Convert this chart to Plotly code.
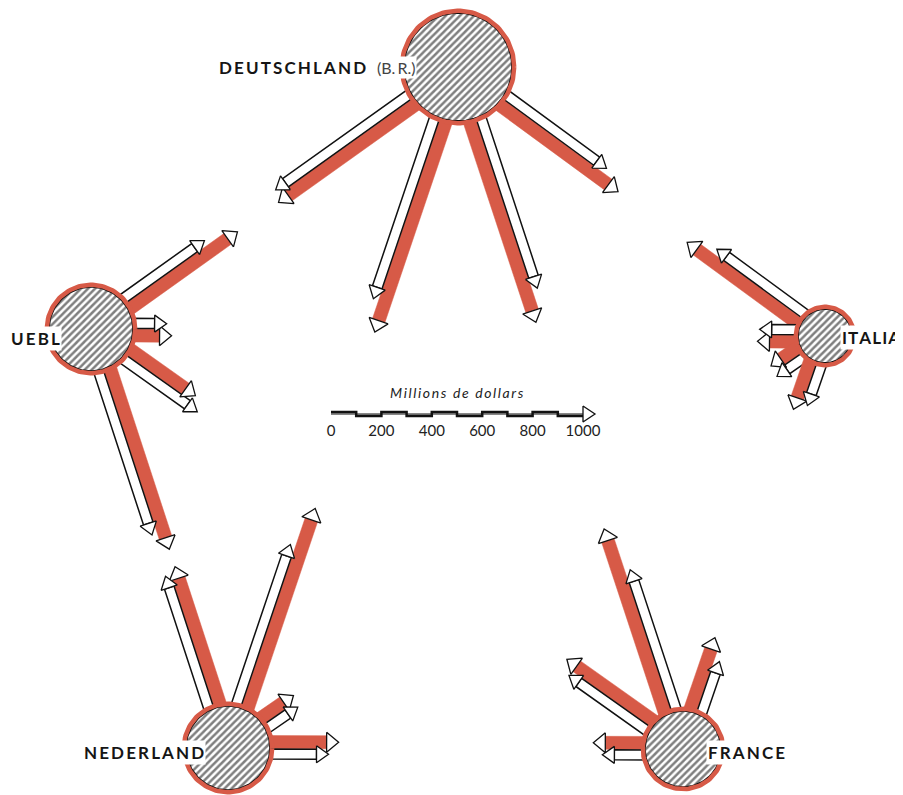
import numpy as np
import plotly.graph_objects as go

# Intra-community trade flows, millions of dollars
countries = ["DEUTSCHLAND", "UEBL", "ITALIA", "NEDERLAND", "FRANCE"]

# rows = country the arrows leave from, columns = partner they point to
red_flows = [
    [0, 663, 576, 873, 830],
    [516, 0, 139, 746, 310],
    [540, 147, 0, 123, 195],
    [830, 568, 151, 0, 258],
    [762, 417, 294, 191, 0],
]
white_flows = [
    [0, 643, 484, 750, 703],
    [389, 0, 119, 671, 353],
    [429, 139, 0, 127, 163],
    [663, 544, 139, 0, 218],
    [576, 373, 210, 155, 0],
]

scale_ticks = [0, 200, 400, 600, 800, 1000]
scale_title = "Millions de dollars"

# --- layout of the map (positions / sizes, not data) ---
centers = {
    "DEUTSCHLAND": (458, 67),
    "UEBL": (91, 329),
    "ITALIA": (825, 336),
    "NEDERLAND": (228, 748),
    "FRANCE": (683, 749),
}
radii = {"DEUTSCHLAND": 58, "UEBL": 46, "ITALIA": 31, "NEDERLAND": 46, "FRANCE": 42}

PX_PER_MUSD = 0.252
RED = "#D75A47"
HEAD_LEN = 12
RED_HALF, WHITE_HALF = 6.5, 5.0
RED_OFF, WHITE_OFF = -6.0, 6.0
PAGE_OFF = 8  # the page body margin shifts the plot by 8px

cx_all = np.mean([c[0] for c in centers.values()])
cy_all = np.mean([c[1] for c in centers.values()])

fig = go.Figure()
heads = []


def poly(fig, pts, fill, line_color, line_width):
    xs = [p[0] for p in pts] + [pts[0][0]]
    ys = [p[1] for p in pts] + [pts[0][1]]
    fig.add_trace(go.Scatter(
        x=xs, y=ys, mode="lines", fill="toself", fillcolor=fill,
        line=dict(color=line_color, width=line_width),
        hoverinfo="skip", showlegend=False
    ))


def arrow(c, d, n, off, half, value, r, fill, edge, edge_w):
    length = value * PX_PER_MUSD
    s_edge = np.sqrt(max(r * r - off * off, 1))
    s0 = s_edge - 6
    tip = s_edge + length
    base = tip - HEAD_LEN

    def p(s, t):
        return (c[0] + d[0] * s + n[0] * (off + t), c[1] + d[1] * s + n[1] * (off + t))

    poly(fig, [p(s0, -half), p(base, -half), p(base, half), p(s0, half)], fill, edge, edge_w)
    hw = half + 3.5
    heads.append([p(base, -hw), p(tip, 0), p(base, hw)])


for i, a in enumerate(countries):
    ca = np.array(centers[a], dtype=float)
    for j, b in enumerate(countries):
        if i == j:
            continue
        cb = np.array(centers[b], dtype=float)
        d = (cb - ca) / np.linalg.norm(cb - ca)
        n = np.array([-d[1], d[0]])
        mid = (ca + cb) / 2
        if np.dot(n, mid - np.array([cx_all, cy_all])) < 0:
            n = -n
        r = radii[a]
        arrow(ca, d, n, RED_OFF, RED_HALF, red_flows[i][j], r, RED, RED, 0.5)
        arrow(ca, d, n, WHITE_OFF, WHITE_HALF, white_flows[i][j], r, "white", "#111", 1.5)

for h in heads:
    poly(fig, h, "white", "#111", 1.3)

# circles
t = np.linspace(0, 2 * np.pi, 120)
for name in countries:
    cx, cy = centers[name]
    r = radii[name]
    fig.add_trace(go.Scatter(
        x=cx + (r - 4) * np.cos(t), y=cy + (r - 4) * np.sin(t),
        mode="lines", fill="toself", fillcolor="white",
        fillpattern=dict(shape="/", fgcolor="#000", bgcolor="white", size=5, solidity=0.5),
        line=dict(color="#111", width=1.6),
        hoverinfo="skip", showlegend=False
    ))
    fig.add_trace(go.Scatter(
        x=cx + (r - 1.8) * np.cos(t), y=cy + (r - 1.8) * np.sin(t),
        mode="lines", line=dict(color=RED, width=4.5),
        hoverinfo="skip", showlegend=False
    ))

# scale bar
X0, YS = 331, 414
sx, sy = [], []
for k in range(10):
    y = YS - 2 if k % 2 == 0 else YS + 2
    sx += [X0 + k * 100 * PX_PER_MUSD, X0 + (k + 1) * 100 * PX_PER_MUSD]
    sy += [y, y]
fig.add_trace(go.Scatter(x=[X0, X0 + 1000 * PX_PER_MUSD], y=[YS, YS], mode="lines",
                         line=dict(color="#111", width=1), hoverinfo="skip", showlegend=False))
fig.add_trace(go.Scatter(x=sx, y=sy, mode="lines", line=dict(color="#111", width=2.5),
                         hoverinfo="skip", showlegend=False))
xe = X0 + scale_ticks[-1] * PX_PER_MUSD
poly(fig, [(xe, YS - 8), (xe + 12, YS), (xe, YS + 8)], "white", "#111", 1.3)
fig.add_trace(go.Scatter(
    x=[X0 + v * PX_PER_MUSD for v in scale_ticks], y=[YS + 18] * len(scale_ticks),
    mode="text", text=[str(v) for v in scale_ticks],
    textfont=dict(family="Lato", size=15, color="#222"),
    hoverinfo="skip", showlegend=False
))
fig.add_annotation(x=X0 + 500 * PX_PER_MUSD, y=YS - 22,
                   text="\u2009".join(scale_title).replace("\u2009 \u2009", "  "),
                   showarrow=False, font=dict(family="Lato", size=14, color="#222", style="italic"))


def spaced(s, sep="\u2009"):
    return sep.join(s)


label_font = dict(family="Lato", size=17, color="#151515", weight="bold")
labels = [
    ("DEUTSCHLAND", 217, 67, "\u2009"),
    ("UEBL", 9, 338, "\u2009"),
    ("ITALIA", 840, 337, "\u200a"),
    ("NEDERLAND", 82, 752, "\u2009"),
    ("FRANCE", 706, 752, "\u2009"),
]
for text, x, y, sep in labels:
    fig.add_annotation(x=x, y=y, text=spaced(text, sep), showarrow=False, xanchor="left",
                       font=label_font,
                       bgcolor="white" if text != "DEUTSCHLAND" else "rgba(0,0,0,0)",
                       borderpad=1)
fig.add_annotation(x=375, y=67, text="(B.\u2009R.)", showarrow=False, xanchor="left",
                   font=dict(family="Lato", size=16, color="#444"), bgcolor="white", borderpad=1)

fig.update_layout(
    width=903, height=795,
    margin=dict(l=0, r=0, t=0, b=0),
    plot_bgcolor="white", paper_bgcolor="white",
    xaxis=dict(range=[PAGE_OFF, 903 + PAGE_OFF], visible=False, fixedrange=True),
    yaxis=dict(range=[795 + PAGE_OFF, PAGE_OFF], visible=False, fixedrange=True),
    showlegend=False,
)

fig.write_html("out.html")
